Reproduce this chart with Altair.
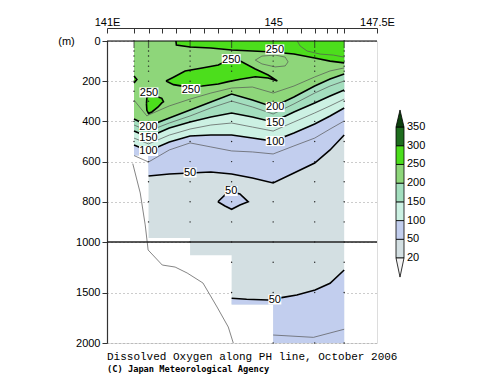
import altair as alt
import pandas as pd

# ---------------- data ----------------
band_names = ["<20", "20-50", "50-100", "100-150", "150-200", "200-250", "250-300", "300-350", ">350"]
band_colors = ["#f4f4f4", "#d3dfe2", "#c2ceee", "#ccf1e3", "#a3debe", "#8ed67a", "#4cde1c", "#1e6d1e", "#0e3f0e"]
legend_values = [20, 50, 100, 150, 200, 250, 300, 350]

top_label_lon = [141, 145, 147.5]
tick_lon = [141.0, 141.65, 142.0, 142.33, 142.67, 143.0, 143.33, 143.67, 144.0, 144.33,
            144.67, 145.0, 145.33, 145.67, 146.0, 146.29, 146.53, 146.71, 147.5]
depth_ticks = [0, 200, 400, 600, 800, 1000, 1500, 2000]

station_lon = [141.65, 142.0, 143.0, 144.0, 145.0, 146.0, 146.71]
station_bottom = [570, 980, 1130, 1620, 2000, 2000, 2000]
sample_depth = [0, 10, 20, 30, 50, 75, 100, 125, 150, 200, 250, 300, 400, 500, 600, 700,
                800, 900, 1000, 1200, 1500, 2000]

section_lon = [141.65, 142.0, 143.0, 144.0, 145.0, 146.71]
section_bottom = [570, 980, 1130, 1620, 2000, 2000]

grid_lon = [141.65, 142.0, 142.5, 143.0, 143.5, 144.0, 144.5, 145.0, 145.5, 146.0, 146.37, 146.71]
c75 = [570, 602, 542, 507, 527, 547, 552, 562, 522, 483, 438, 398]
c100 = [517, 547, 502, 473, 468, 468, 483, 498, 458, 413, 373, 333]
c125 = [483, 512, 468, 438, 418, 408, 428, 448, 403, 358, 323, 289]
c150 = [448, 478, 433, 403, 378, 358, 378, 403, 353, 308, 274, 244]
c175 = [418, 448, 408, 373, 333, 299, 328, 363, 313, 259, 224, 199]
c200 = [388, 423, 383, 343, 303, 264, 294, 328, 279, 224, 189, 164]

c225_lon = [141.65, 141.96, 142.0, 142.5, 143.0, 143.5, 144.0, 144.5, 145.0, 145.5, 146.0, 146.37, 146.71]
c225 = [294, 373, 368, 323, 289, 259, 234, 229, 259, 224, 179, 149, 134]

c50_lon = [142.0, 142.5, 143.0, 143.5, 144.0, 144.5, 145.0, 145.5, 146.0, 146.37, 146.71]
c50 = [672, 662, 657, 652, 662, 682, 706, 657, 607, 542, 468]

c250_lon = [142.66, 142.67, 143.0, 143.5, 144.0, 144.5, 145.0, 145.5, 146.0, 146.37, 146.71]
c250 = [0, 20, 30, 35, 45, 50, 55, 65, 85, 100, 109]

c275_lon = [145.58, 145.65, 145.82, 146.13, 146.45, 146.71]
c275 = [0, 25, 50, 65, 70, 80]

blob_lon = [142.42, 142.6, 142.88, 143.29, 143.68, 143.92, 144.21, 144.57, 144.88, 145.10]
blob_top = [199, 180, 149, 134, 119, 95, 100, 139, 169, 199]
blob_bottom = [199, 217, 227, 224, 214, 202, 190, 178, 184, 199]

leftblob_lon = [141.95, 141.96, 142.0, 142.08, 142.23, 142.32, 142.36]
leftblob_top = [313, 282, 276, 274, 279, 285, 302]
leftblob_bottom = [313, 345, 360, 353, 328, 308, 302]

bump_lon = [141.65, 141.72]
bump_top = [174, 192]
bump_bottom = [209, 192]

loop225_lon = [144.57, 144.73, 145.05, 145.29, 145.36]
loop225_top = [95, 75, 70, 80, 104]
loop225_bottom = [95, 114, 129, 124, 104]

loop50_lon = [143.67, 143.84, 144.0, 144.2, 144.4]
loop50_top = [800, 766, 751, 761, 800]
loop50_bottom = [800, 821, 837, 816, 800]

lower50_lon = [144.0, 144.36, 144.88, 145.0, 145.2, 145.57, 146.01, 146.37, 146.71]
lower50 = [1557, 1567, 1574, 1566, 1551, 1525, 1475, 1409, 1277]

c75deep_lon = [145.0, 145.97, 146.71]
c75deep = [1921, 1944, 1864]

bathy_lon = [141.62, 141.80, 141.92, 141.99, 142.33, 142.64, 142.93, 143.31, 143.65, 143.92, 144.04]
bathy_depth = [610, 756, 915, 1079, 1228, 1248, 1307, 1406, 1644, 1842, 2000]

label_text = ["250", "250", "250", "250", "200", "150", "100", "200", "150", "100", "50", "50", "50"]
label_lon = [145.04, 143.99, 143.02, 142.01, 142.0, 142.0, 142.0, 145.05, 145.05, 145.05, 143.0, 143.99, 145.04]
label_depth = [42, 90, 239, 256, 423, 478, 547, 328, 403, 498, 654, 746, 1569]

# ---------------- helpers ----------------
color_scale = alt.Scale(domain=band_names, range=band_colors)
x_scale = alt.Scale(domain=[141, 147.5], nice=False, zero=False)
y_scale = alt.Scale(domain=[0, 1000, 2000], range=[0, 201, 302], nice=False, zero=False)

FONT = "Liberation Sans"

top_axis = alt.Axis(orient="top", offset=13, values=top_label_lon,
                    labelExpr="datum.value == 141 ? '141E' : (datum.value == 147.5 ? '147.5E' : '145')",
                    tickSize=0, labelPadding=1, labelFlush=False, domainColor="#333", domainWidth=1,
                    labelFont=FONT, labelFontSize=11, labelColor="black", title=None, grid=False)
left_axis = alt.Axis(orient="left", values=depth_ticks, format="d", tickSize=5, tickColor="#333",
                     labelPadding=2, labelFont=FONT, labelFontSize=11, labelColor="black",
                     labelOverlap=False, domainColor="#333", domainWidth=1.2,
                     title="(m)", titleAngle=0, titleX=-41, titleY=0, titleAlign="center",
                     titleBaseline="middle", titleFont=FONT, titleFontSize=11, titleFontWeight="normal",
                     titleColor="black",
                     grid=True, gridDash=[1, 3], gridColor="#999", gridWidth=1)
tick_axis = alt.Axis(orient="top", offset=8, values=tick_lon, tickSize=5, tickColor="#333",
                     labels=False, domain=False, title=None, grid=False)


def area_df(lon, top, bottom, band):
    return pd.DataFrame({"lon": lon, "top": top, "bottom": bottom, "band": band})


def fill(df, interp="linear", first=False):
    x = alt.X("lon:Q", scale=x_scale, axis=top_axis) if first else alt.X("lon:Q")
    y = alt.Y("top:Q", scale=y_scale, axis=left_axis) if first else alt.Y("top:Q")
    return alt.Chart(df).mark_area(interpolate=interp, opacity=1, strokeWidth=0).encode(
        x=x, y=y, y2="bottom:Q",
        color=alt.Color("band:N", scale=color_scale, legend=None))


layers = []
# base section (20-50)
layers.append(fill(area_df(section_lon, [0] * len(section_lon), section_bottom, "20-50"),
                   interp="step-after", first=True))
# >50 upper
layers.append(fill(area_df([141.65, 141.99] + c50_lon, [0] * (2 + len(c50_lon)), [570, 570] + c50, "50-100")))
# >50 loop
layers.append(fill(area_df(loop50_lon, loop50_top, loop50_bottom, "50-100")))
# >50 deep
lw = [(lo, d) for lo, d in zip(lower50_lon, lower50) if lo <= 145.0]
le = [(lo, d) for lo, d in zip(lower50_lon, lower50) if lo >= 145.0]
layers.append(fill(area_df([a for a, _ in lw], [b for _, b in lw], [1620] * len(lw), "50-100")))
layers.append(fill(area_df([a for a, _ in le], [b for _, b in le], [2000] * len(le), "50-100")))
# >100, >150, >200
zeros = [0] * len(grid_lon)
layers.append(fill(area_df(grid_lon, zeros, c100, "100-150")))
layers.append(fill(area_df(grid_lon, zeros, c150, "150-200")))
layers.append(fill(area_df(grid_lon, zeros, c200, "200-250")))
# >250
layers.append(fill(area_df(c250_lon, [0] * len(c250_lon), c250, "250-300")))
layers.append(fill(area_df(blob_lon, blob_top, blob_bottom, "250-300")))
layers.append(fill(area_df(leftblob_lon, leftblob_top, leftblob_bottom, "250-300")))
layers.append(fill(area_df(bump_lon, bump_top, bump_bottom, "250-300")))


# contour lines
def path_rows(cid, lon, depth):
    return [{"id": cid, "seq": i, "lon": a, "depth": b} for i, (a, b) in enumerate(zip(lon, depth))]


def loop_rows(cid, lon, top, bottom):
    lons = list(lon) + list(reversed(lon))[1:]
    deps = list(top) + list(reversed(bottom))[1:]
    return path_rows(cid, lons, deps)


thick_rows = []
thick_rows += path_rows("c50", c50_lon, c50)
thick_rows += path_rows("c100", grid_lon, c100)
thick_rows += path_rows("c150", grid_lon, c150)
thick_rows += path_rows("c200", grid_lon, c200)
thick_rows += path_rows("c250", c250_lon, c250)
thick_rows += loop_rows("blob", blob_lon, blob_top, blob_bottom)
thick_rows += loop_rows("lblob", leftblob_lon, leftblob_top, leftblob_bottom)
thick_rows += loop_rows("bump", bump_lon, bump_top, bump_bottom)
thick_rows += loop_rows("l50", loop50_lon, loop50_top, loop50_bottom)
thick_rows += path_rows("lower50", lower50_lon, lower50)

thin_rows = []
thin_rows += path_rows("c75", grid_lon, c75)
thin_rows += path_rows("c125", grid_lon, c125)
thin_rows += path_rows("c175", grid_lon, c175)
thin_rows += path_rows("c225", c225_lon, c225)
thin_rows += path_rows("c275", c275_lon, c275)
thin_rows += loop_rows("l225", loop225_lon, loop225_top, loop225_bottom)
thin_rows += path_rows("c75deep", c75deep_lon, c75deep)

# station sample dots (under the contour lines)
dot_rows = [{"lon": lo, "depth": d} for lo, b in zip(station_lon, station_bottom)
            for d in sample_depth if d <= b]
layers.append(alt.Chart(pd.DataFrame(dot_rows)).mark_circle(size=2, color="#222", opacity=1).encode(
    x="lon:Q", y="depth:Q"))

for rows, width, col in [(thin_rows, 0.7, "#555"), (thick_rows, 1.6, "black")]:
    layers.append(alt.Chart(pd.DataFrame(rows)).mark_line(strokeWidth=width, color=col).encode(
        x="lon:Q", y="depth:Q", detail="id:N", order="seq:Q"))

layers.append(alt.Chart(pd.DataFrame(path_rows("bathy", bathy_lon, bathy_depth))).mark_line(
    strokeWidth=0.8, color="#666").encode(x="lon:Q", y="depth:Q", order="seq:Q"))

# frame top and 1000 m line
layers.append(alt.Chart(pd.DataFrame({"depth": [0]})).mark_rule(color="black", strokeWidth=1).encode(
    y="depth:Q"))
layers.append(alt.Chart(pd.DataFrame({"depth": [1000]})).mark_rule(color="#222", strokeWidth=1.4).encode(
    y="depth:Q"))

# contour labels with white boxes
lab = pd.DataFrame({"lon": label_lon, "depth": label_depth, "text": label_text})
lab["path"] = ["M-1,-0.53L1,-0.53L1,0.53L-1,0.53Z" if len(t) == 3 else "M-1,-0.77L1,-0.77L1,0.77L-1,0.77Z"
               for t in lab["text"]]
lab["sz"] = [361 if len(t) == 3 else 169 for t in lab["text"]]
layers.append(alt.Chart(lab).mark_point(filled=True, color="white", opacity=1, strokeWidth=0).encode(
    x="lon:Q", y="depth:Q", shape=alt.Shape("path:N", scale=None), size=alt.Size("sz:Q", scale=None)))
layers.append(alt.Chart(lab).mark_text(font=FONT, fontSize=11, color="black", align="center",
                                       baseline="middle", dy=0.5).encode(
    x="lon:Q", y="depth:Q", text="text:N"))

inner = alt.layer(*layers)

tick_layer = alt.Chart(pd.DataFrame({"lon": tick_lon})).mark_point(opacity=0).encode(
    x=alt.X("lon:Q", axis=tick_axis))

main = alt.layer(inner, tick_layer).resolve_axis(x="independent")

# ---------------- colour bar ----------------
lx = alt.Scale(domain=[0, 1], range=[289, 297])
ly = alt.Scale(domain=[0, 7], range=[217, 86])
bar_df = pd.DataFrame({"x0": 0, "x1": 1, "y0": list(range(7)), "y1": list(range(1, 8)),
                       "band": band_names[1:8]})
bars = alt.Chart(bar_df).mark_rect(stroke="black", strokeWidth=0.8).encode(
    x=alt.X("x0:Q", scale=lx, axis=None), x2="x1:Q",
    y=alt.Y("y0:Q", scale=ly, axis=None), y2="y1:Q",
    color=alt.Color("band:N", scale=color_scale, legend=None))
tri_df = pd.DataFrame({
    "x0": [0, 0.5, 1, 0, 0.5, 1],
    "t": [0, -1.02, 0, 7, 7.91, 7],
    "b": [0, 0, 0, 7, 7, 7],
    "band": ["<20"] * 3 + [">350"] * 3})
tris = alt.Chart(tri_df).mark_area(stroke="black", strokeWidth=0.8, opacity=1).encode(
    x="x0:Q", y="t:Q", y2="b:Q", color=alt.Color("band:N", scale=color_scale, legend=None))
lt_df = pd.DataFrame({"x0": 1, "y0": list(range(8)), "text": [str(v) for v in legend_values]})
ltext = alt.Chart(lt_df).mark_text(font=FONT, fontSize=11, color="black", align="left",
                                   baseline="middle", dx=3).encode(x="x0:Q", y="y0:Q", text="text:N")
legend = alt.layer(bars, tris, ltext)

chart = alt.layer(main, legend).resolve_scale(x="independent", y="independent").properties(
    width=270, height=302,
    autosize=alt.AutoSizeParams(type="none"),
    padding={"left": 99, "top": 33, "right": 115, "bottom": 36},
    title=alt.TitleParams(
        text="Dissolved Oxygen along PH line, October 2006",
        subtitle="(C) Japan Meteorological Agency",
        orient="bottom", anchor="start", frame="group", offset=3,
        font="Liberation Mono", fontSize=11, fontWeight="normal", color="black",
        subtitleFont="DejaVu Sans Mono", subtitleFontSize=8.7, subtitleFontWeight="bold",
        subtitleColor="black", subtitlePadding=3)
).configure_view(stroke="black", strokeWidth=1).configure(background="white")

chart.save("out.html", embed_options={"renderer": "svg", "actions": False})
